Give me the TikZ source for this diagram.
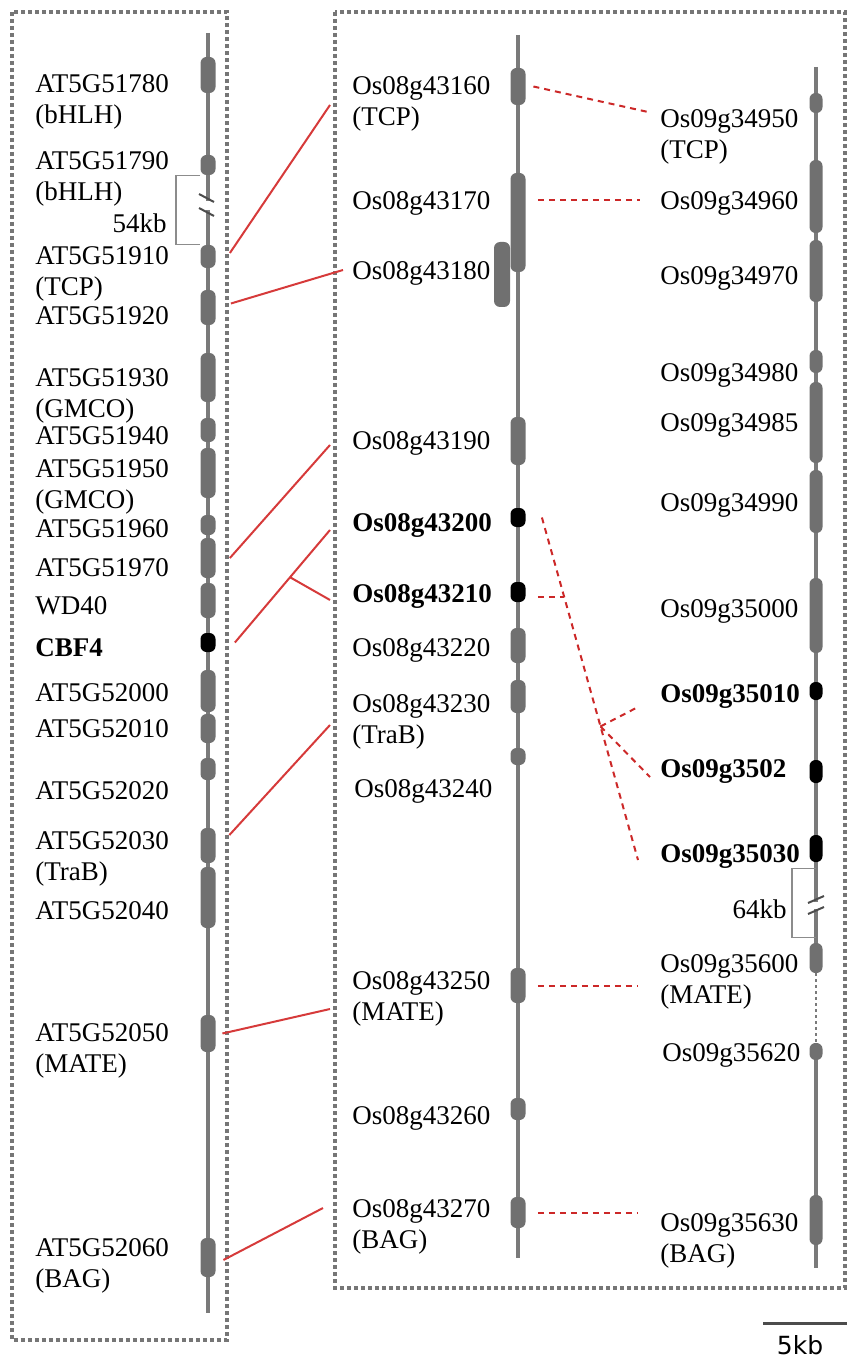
\documentclass[tikz,border=0pt]{standalone}
\usepackage{fontspec}
\setmainfont{Liberation Serif}
\newfontfamily\barfont{DejaVu Sans}
\definecolor{chromgray}{RGB}{122,122,122}
\definecolor{genegray}{RGB}{112,112,112}
\definecolor{boxgray}{RGB}{118,118,118}
\definecolor{synred}{RGB}{214,58,58}
\definecolor{dupred}{RGB}{204,40,40}

\begin{document}
\begin{tikzpicture}[
  x=0.5pt, y=-0.5pt,
  chrom/.style  ={line width=2pt, chromgray},
  gene/.style   ={rectangle, rounded corners=3pt, fill=genegray, inner sep=0pt,
                  minimum width=7.5pt},
  hitgene/.style={gene, fill=black},
  lbl/.style    ={anchor=north west, inner sep=0pt, align=left,
                  font=\fontsize{13.5}{15.5}\selectfont},
  hit/.style    ={lbl, font=\fontsize{13.5}{15.5}\selectfont\bfseries},
  frame/.style  ={boxgray, line width=1.8pt, dash pattern=on 1.8pt off 1.7pt},
  syn/.style    ={synred, line width=1pt},
  dup/.style    ={dupred, line width=1pt, dash pattern=on 3pt off 2.5pt},
  gapbr/.style  ={black!45, line width=0.6pt},
  slash/.style  ={black!70, line width=1pt},
  scalebar/.style={black!70, line width=1.5pt}
]
\useasboundingbox (0,0) rectangle (847,1358);

% ---------- dotted frames ----------
\draw[frame] (12,12) rectangle (227,1340);
\draw[frame] (335,12) rectangle (845,1288);

% ---------- chromosome backbones ----------
\draw[chrom] (208,33) -- (208,1313);
\draw[chrom] (518,35) -- (518,1258);
\draw[chrom] (816,67) -- (816,973);
\draw[chrom, line width=1.3pt, dash pattern=on 1.3pt off 1.7pt] (816,973) -- (816,1043);
\draw[chrom] (816,1043) -- (816,1268);

% ---------- genes: Arabidopsis ----------
\foreach \n/\a/\b in {51780/57/93, 51790/155/175, 51910/245/268, 51920/290/325,
    51930/353/402, 51940/418/442, 51950/448/498, 51960/515/535, 51970/538/578,
    wd40/583/618, 52000/670/712, 52010/714/743, 52020/758/780, 52030/828/863,
    52040/867/928, 52050/1015/1052, 52060/1238/1277}
  \node[gene, minimum height={(\b-\a)*0.5pt}] (gA\n) at (208,{(\a+\b)/2}) {};
\node[hitgene, minimum height=9.5pt] (gAcbf4) at (208,642.5) {};

% ---------- genes: rice chr 8 ----------
\foreach \n/\a/\b in {43160/68/105, 43170/173/272, 43190/417/465, 43220/628/663,
    43230/680/713, 43240/748/765, 43250/968/1003, 43260/1098/1120, 43270/1197/1228}
  \node[gene, minimum height={(\b-\a)*0.5pt}] (gB\n) at (518,{(\a+\b)/2}) {};
\node[gene, minimum height=32.5pt, minimum width=8pt] (gB43180) at (502,274.5) {};
\node[hitgene, minimum height=9.5pt] (gB43200) at (518,517.5) {};
\node[hitgene, minimum height=10pt]  (gB43210) at (518,592) {};

% ---------- genes: rice chr 9 ----------
\foreach \n/\a/\b in {34950/93/113, 34960/160/233, 34970/240/302, 34980/350/373,
    34985/382/463, 34990/470/533, 35000/578/653, 35600/943/973, 35620/1043/1060,
    35630/1195/1245}
  \node[gene, minimum width=6.5pt, minimum height={(\b-\a)*0.5pt}] (gC\n) at (816,{(\a+\b)/2}) {};
\foreach \n/\a/\b in {35010/682/700, 3502/760/783, 35030/835/862}
  \node[hitgene, minimum width=6.5pt, minimum height={(\b-\a)*0.5pt}] (gC\n) at (816,{(\a+\b)/2}) {};

% ---------- gaps ----------
\fill[white] (202,201) rectangle (214,210);
\draw[slash] (199,194) -- (214,202) (199,208) -- (214,216);
\draw[gapbr] ([xshift=-4pt]gA51790.south) -- ++(-24,0) |- ([xshift=-4pt]gA51910.north);
\node[lbl, anchor=north east] (kb54) at (167,213) {54kb};

\fill[white] (810,902) rectangle (822,909);
\draw[slash] (808,903) -- (824,896) (808,914) -- (824,907);
\draw[gapbr] ([yshift=-3pt]gC35030.south) -- ++(-24,0) |- ([yshift=2.5pt]gC35600.north);
\node[lbl, anchor=north east] (kb64) at (787,899) {64kb};

% ---------- labels: Arabidopsis ----------
\node[lbl] (tA51780) at (35,74)   {AT5G51780\\(bHLH)};
\node[lbl] (tA51790) at (35,151)  {AT5G51790\\(bHLH)};
\node[lbl] (tA51910) at (35,246)  {AT5G51910\\(TCP)};
\node[lbl] (tA51920) at (35,306)  {AT5G51920};
\node[lbl] (tA51930) at (35,368)  {AT5G51930\\(GMCO)};
\node[lbl] (tA51940) at (35,426)  {AT5G51940};
\node[lbl] (tA51950) at (35,459)  {AT5G51950\\(GMCO)};
\node[lbl] (tA51960) at (35,519)  {AT5G51960};
\node[lbl] (tA51970) at (35,558)  {AT5G51970};
\node[lbl] (tAwd40)  at (35,596)  {WD40};
\node[hit] (tAcbf4)  at (35,638)  {CBF4};
\node[lbl] (tA52000) at (35,683)  {AT5G52000};
\node[lbl] (tA52010) at (35,719)  {AT5G52010};
\node[lbl] (tA52020) at (35,781)  {AT5G52020};
\node[lbl] (tA52030) at (35,831)  {AT5G52030\\(TraB)};
\node[lbl] (tA52040) at (35,901)  {AT5G52040};
\node[lbl] (tA52050) at (35,1023) {AT5G52050\\(MATE)};
\node[lbl] (tA52060) at (35,1238) {AT5G52060\\(BAG)};

% ---------- labels: rice chr 8 ----------
\node[lbl] (tB43160) at (352,76)   {Os08g43160\\(TCP)};
\node[lbl] (tB43170) at (352,191)  {Os08g43170};
\node[lbl] (tB43180) at (352,261)  {Os08g43180};
\node[lbl] (tB43190) at (352,431)  {Os08g43190};
\node[hit] (tB43200) at (352,513)  {Os08g43200};
\node[hit] (tB43210) at (352,584)  {Os08g43210};
\node[lbl] (tB43220) at (352,638)  {Os08g43220};
\node[lbl] (tB43230) at (352,694)  {Os08g43230\\(TraB)};
\node[lbl] (tB43240) at (354,779)  {Os08g43240};
\node[lbl] (tB43250) at (352,971)  {Os08g43250\\(MATE)};
\node[lbl] (tB43260) at (352,1106) {Os08g43260};
\node[lbl] (tB43270) at (352,1199) {Os08g43270\\(BAG)};

% ---------- labels: rice chr 9 ----------
\node[lbl] (tC34950) at (660,109)  {Os09g34950\\(TCP)};
\node[lbl] (tC34960) at (660,191)  {Os09g34960};
\node[lbl] (tC34970) at (660,266)  {Os09g34970};
\node[lbl] (tC34980) at (660,363)  {Os09g34980};
\node[lbl] (tC34985) at (660,413)  {Os09g34985};
\node[lbl] (tC34990) at (660,493)  {Os09g34990};
\node[lbl] (tC35000) at (660,599)  {Os09g35000};
\node[hit] (tC35010) at (660,684)  {Os09g35010};
\node[hit] (tC3502)  at (660,759)  {Os09g3502};
\node[hit] (tC35030) at (660,844)  {Os09g35030};
\node[lbl] (tC35600) at (660,954)  {Os09g35600\\(MATE)};
\node[lbl] (tC35620) at (662,1043) {Os09g35620};
\node[lbl] (tC35630) at (660,1213) {Os09g35630\\(BAG)};

% ---------- Arabidopsis - rice links ----------
\draw[syn] ([xshift=7pt,yshift=1.75pt]gA51910.east) -- ([xshift=-11pt,yshift=-14.5pt]tB43160.north west);
\draw[syn] ([xshift=7.5pt,yshift=2pt]gA51920.east) -- ([xshift=-4.5pt,yshift=-4.5pt]tB43180.north west);
\draw[syn] ([xshift=7pt]gA51970.east) -- ([xshift=-11pt,yshift=-7pt]tB43190.north west);
\draw[syn] ([xshift=9.5pt]gAcbf4.east) -- coordinate[pos=0.58] (fork)
           ([xshift=-11pt,yshift=-8.5pt]tB43200.north west);
\draw[syn] (fork) -- ([xshift=-11pt,yshift=-8pt]tB43210.north west);
\draw[syn] ([xshift=6.75pt,yshift=5.25pt]gA52030.east) -- ([xshift=-11pt,yshift=-15.5pt]tB43230.north west);
\draw[syn] ([xshift=3.25pt]gA52050.east) -- ([xshift=-11pt,yshift=-19pt]tB43250.north west);
\draw[syn] ([xshift=3.75pt,yshift=-1.25pt]gA52060.east) -- ([xshift=-14.5pt,yshift=-4.5pt]tB43270.north west);

% ---------- rice duplications ----------
\draw[dup] ([xshift=3.75pt]gB43160.east) -- ([xshift=-6pt,yshift=-1.5pt]tC34950.north west);
\draw[dup] ([xshift=6pt,yshift=-4.5pt]gB43170.east |- tC34960.north west) -- ([xshift=-10pt,yshift=-4.5pt]tC34960.north west);
\draw[dup] ([xshift=8pt]gB43200.east) -- coordinate[pos=0.232] (m1) coordinate[pos=0.61] (m2)
           ([xshift=-11pt,yshift=-8pt]tC35030.north west);
\draw[dup] ([xshift=6pt]gB43210.east |- m1) -- (m1);
\draw[dup] (m2) -- ([xshift=-11pt,yshift=-11.5pt]tC35010.north west);
\draw[dup] (m2) -- ([xshift=-5pt,yshift=-9pt]tC3502.north west);
\draw[dup] ([xshift=6pt]gB43250.east) -- ([xshift=-11pt]tC35600.north west |- gB43250.east);
\draw[dup] ([xshift=6pt]gB43270.east) -- ([xshift=-11pt]tC35630.north west |- gB43270.east);

% ---------- scale ----------
\draw[scalebar] (763,1323) -- (847,1323);
\node[inner sep=0pt, font=\barfont\fontsize{12.5}{14}\selectfont] (kb5) at (800,1345) {5kb};

\end{tikzpicture}
\end{document}
